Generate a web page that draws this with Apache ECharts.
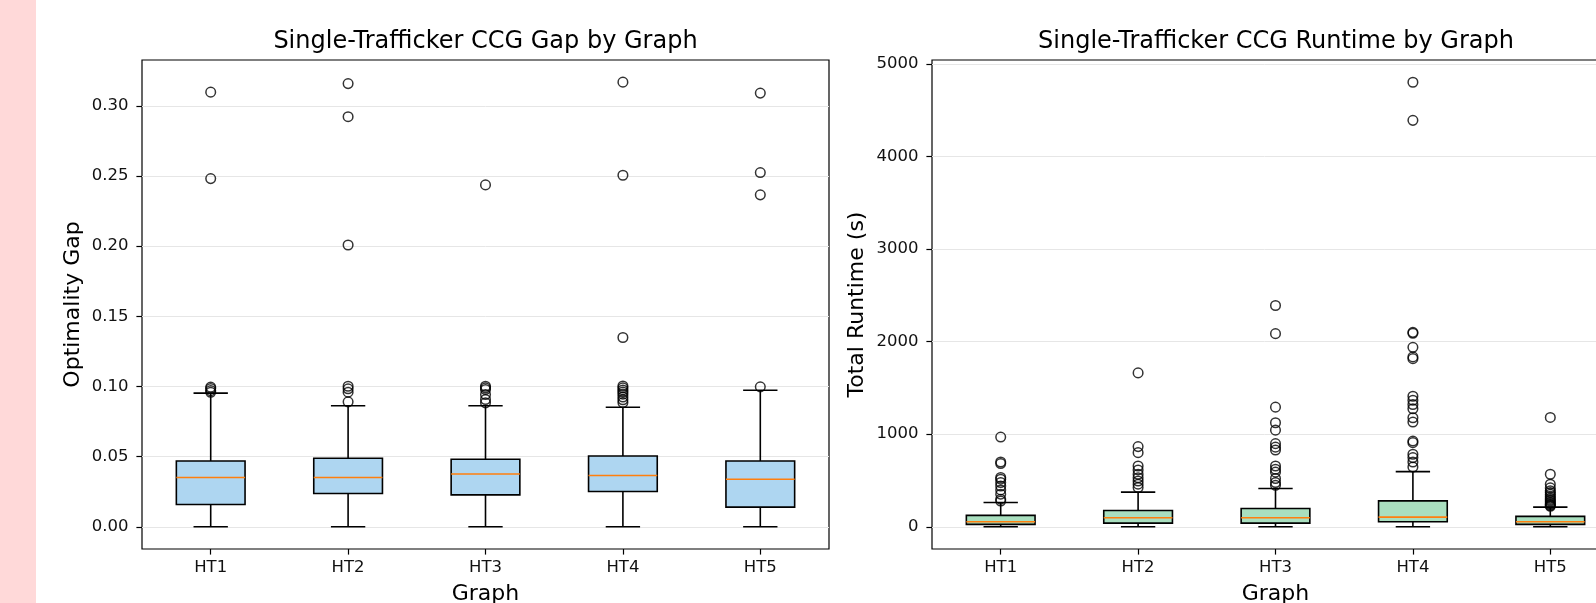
<!DOCTYPE html>
<html>
<head>
<meta charset="utf-8">
<script src="https://cdn.jsdelivr.net/npm/echarts@6/dist/echarts.min.js"></script>
<style>
  html, body { margin: 0; padding: 0; background: #fff; }
  #chart { width: 1596px; height: 603px; }
  #strip { position: absolute; left: 0; top: 0; width: 36px; height: 603px; background: #ffd9d9; }
</style>
</head>
<body>
<div id="chart"></div>
<div id="strip"></div>
<script>
const graphs = ["HT1", "HT2", "HT3", "HT4", "HT5"];

// [lower whisker, Q1, median, Q3, upper whisker]
const gapBoxes = [
  [0, 0.0159, 0.0351, 0.0469, 0.0952],
  [0, 0.0237, 0.0351, 0.0488, 0.0862],
  [0, 0.0227, 0.0376, 0.0481, 0.0862],
  [0, 0.0251, 0.0365, 0.0504, 0.0852],
  [0, 0.0140, 0.0339, 0.0469, 0.0973]
];
const gapOutliers = [
  [0.3097, 0.2481, 0.0995, 0.0985, 0.0970, 0.0958],
  [0.3158, 0.2922, 0.2008, 0.1001, 0.0983, 0.0959, 0.0890],
  [0.2436, 0.1001, 0.0990, 0.0978, 0.0942, 0.0907, 0.0883],
  [0.3168, 0.2505, 0.1349, 0.1003, 0.0990, 0.0975, 0.0960, 0.0945, 0.0925, 0.0905, 0.0885],
  [0.3090, 0.2524, 0.2365, 0.0997]
];

const runtimeBoxes = [
  [0, 26, 54, 123, 262],
  [0, 40, 97, 176, 374],
  [0, 40, 97, 198, 413],
  [0, 54, 104, 280, 596],
  [0, 26, 54, 112, 212]
];
const runtimeOutliers = [
  [969, 700, 683, 532, 514, 478, 441, 398, 352, 298, 278],
  [1662, 866, 801, 657, 614, 567, 530, 495, 460, 424],
  [2390, 2086, 1292, 1124, 1044, 898, 860, 829, 657, 621, 590, 521, 478, 449],
  [4802, 4390, 2100, 2090, 1938, 1835, 1816, 1410, 1367, 1321, 1275, 1178, 1131, 926, 909, 783, 747, 700, 646],
  [1181, 567, 460, 420, 390, 370, 350, 330, 310, 295, 280, 265, 250, 240, 230, 222]
];

const gapTicks = [0, 0.05, 0.1, 0.15, 0.2, 0.25, 0.3];
const runtimeTicks = [0, 1000, 2000, 3000, 4000, 5000];

const font = "DejaVu Sans";
const chart = echarts.init(document.getElementById("chart"));

// matplotlib-style box: box spans half the band, caps a quarter
function boxRenderer(fill) {
  return function (params, api) {
    const i = api.value(0);
    const band = api.size([1, 0])[0];
    const hw = band * 0.25, cw = band * 0.125;
    const p = [1, 2, 3, 4, 5].map(k => api.coord([i, api.value(k)]));
    const cx = p[0][0];
    const seg = (x1, y1, x2, y2, stroke) => ({
      type: "line", shape: { x1, y1, x2, y2 }, style: { stroke, lineWidth: 1.6 }
    });
    return {
      type: "group",
      children: [
        seg(cx, p[0][1], cx, p[1][1], "#000"),
        seg(cx, p[3][1], cx, p[4][1], "#000"),
        seg(cx - cw, p[0][1], cx + cw, p[0][1], "#000"),
        seg(cx - cw, p[4][1], cx + cw, p[4][1], "#000"),
        {
          type: "rect",
          shape: { x: cx - hw, y: p[3][1], width: 2 * hw, height: p[1][1] - p[3][1] },
          style: { fill, stroke: "#000", lineWidth: 1.6 }
        },
        seg(cx - hw, p[2][1], cx + hw, p[2][1], "#ff7f0e")
      ]
    };
  };
}

function flat(outliers) {
  const out = [];
  outliers.forEach((vals, i) => vals.forEach(v => out.push([i, v])));
  return out;
}

function xAxis(gridIndex) {
  return {
    type: "category",
    gridIndex,
    data: graphs,
    name: "Graph",
    nameLocation: "middle",
    nameGap: 34,
    nameTextStyle: { fontFamily: font, fontSize: 22, color: "#000" },
    axisLine: { show: false, onZero: false },
    axisTick: { show: true, alignWithLabel: true, length: 5.6, lineStyle: { color: "#000", width: 1.2 } },
    axisLabel: { interval: 0, margin: 10, fontFamily: font, fontSize: 16.5, color: "#111" },
    splitLine: { show: false }
  };
}

function yAxis(gridIndex, name, min, max, ticks, fmt, gap) {
  return {
    type: "value",
    gridIndex,
    min, max,
    name,
    nameLocation: "middle",
    nameGap: gap,
    nameTextStyle: { fontFamily: font, fontSize: 22, color: "#000" },
    axisLine: { show: false, onZero: false },
    axisTick: { show: true, length: 5.6, customValues: ticks, lineStyle: { color: "#000", width: 1.2 } },
    axisLabel: { margin: 13.5, customValues: ticks, formatter: fmt, fontFamily: font, fontSize: 16.5, color: "#111" },
    splitLine: { show: true, lineStyle: { color: "#e6e6e6", width: 1 } }
  };
}

const flierStyle = {
  symbol: "circle",
  symbolSize: 9.6,
  itemStyle: { color: "rgba(0,0,0,0)", borderColor: "#000", borderWidth: 1.5 }
};

const gridBase = { top: 60, width: 687, height: 489, show: true, borderColor: "#000", borderWidth: 1.2,
  containLabel: false, outerBoundsMode: "none" };

chart.setOption({
  animation: false,
  title: [
    { text: "Single-Trafficker CCG Gap by Graph", left: 485.5, top: 30, textAlign: "center", padding: 0,
      textStyle: { fontFamily: font, fontSize: 24, fontWeight: "normal", color: "#000" } },
    { text: "Single-Trafficker CCG Runtime by Graph", left: 1276, top: 30, textAlign: "center", padding: 0,
      textStyle: { fontFamily: font, fontSize: 24, fontWeight: "normal", color: "#000" } }
  ],
  grid: [
    Object.assign({ left: 142 }, gridBase),
    Object.assign({ left: 932 }, gridBase)
  ],
  xAxis: [xAxis(0), xAxis(1)],
  yAxis: [
    yAxis(0, "Optimality Gap", -0.01584, 0.3326, gapTicks, v => v.toFixed(2), 58),
    yAxis(1, "Total Runtime (s)", -240, 5042, runtimeTicks, v => String(v), 64)
  ],
  series: [
    {
      type: "custom", xAxisIndex: 0, yAxisIndex: 0,
      renderItem: boxRenderer("#aed6f1"),
      encode: { x: 0, y: [1, 2, 3, 4, 5] },
      data: gapBoxes.map((b, i) => [i, ...b])
    },
    Object.assign({ type: "scatter", xAxisIndex: 0, yAxisIndex: 0, data: flat(gapOutliers) }, flierStyle),
    {
      type: "custom", xAxisIndex: 1, yAxisIndex: 1,
      renderItem: boxRenderer("#a9dfbf"),
      encode: { x: 0, y: [1, 2, 3, 4, 5] },
      data: runtimeBoxes.map((b, i) => [i, ...b])
    },
    Object.assign({ type: "scatter", xAxisIndex: 1, yAxisIndex: 1, data: flat(runtimeOutliers) }, flierStyle)
  ]
});
</script>
</body>
</html>
